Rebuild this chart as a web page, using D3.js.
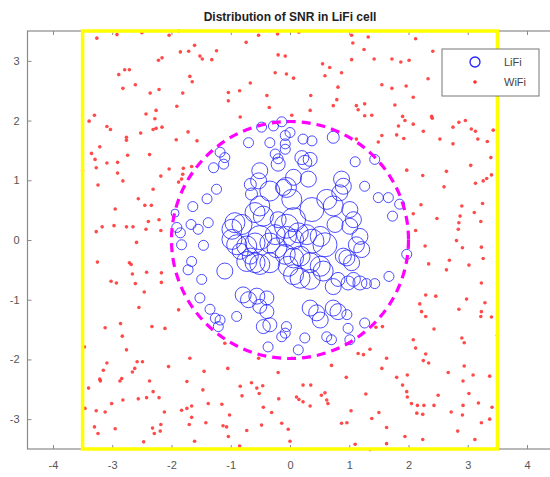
<!DOCTYPE html>
<html>
<head>
<meta charset="utf-8">
<script src="https://cdn.jsdelivr.net/npm/d3@7"></script>
<style>
  body { margin: 0; background: #fff; }
  text { font-family: "Liberation Sans", Arial, sans-serif; }
</style>
</head>
<body>
<script>
// WiFi users (red dots)
const wifiPoints = [
  [-3.26,3.38],[-2.92,3.44],[-2.50,3.47],[-2.04,3.43],[-1.88,3.50],[-1.61,3.26],[-1.85,3.15],[-1.71,3.16],
  [-1.52,3.08],[-1.48,3.03],[-1.32,3.02],[-1.24,3.17],[-0.74,3.31],[-0.53,3.43],[-2.22,3.01],[-2.16,3.05],
  [-2.89,2.77],[-2.79,2.85],[-2.71,2.85],[-1.69,2.74],[-1.65,2.65],[-2.61,2.60],[-2.82,2.54],[-2.36,2.46],
  [-2.21,2.52],[-1.81,2.46],[-1.04,2.47],[-1.04,2.33],[-0.85,2.50],[-0.67,2.63],[-0.39,2.42],[-0.35,2.22],
  [-1.91,2.24],[-2.43,2.11],[-2.26,2.17],[-3.30,2.09],[-0.84,2.06],
  [-0.21,3.45],[0.15,3.48],[1.04,3.43],[1.32,3.40],[1.06,3.30],[1.25,3.19],[2.12,3.37],[2.41,3.16],
  [-0.20,3.10],[-0.08,3.08],[1.04,3.02],[1.42,3.03],[1.72,3.03],[1.87,2.98],[2.01,3.01],[0.55,2.95],
  [0.67,2.89],[-0.25,2.80],[-0.06,2.78],[0.06,2.71],[0.59,2.75],[0.87,2.80],[2.33,2.70],[0.81,2.56],
  [1.55,2.60],[1.72,2.54],[1.96,2.58],[0.35,2.42],[0.79,2.35],[0.73,2.25],[1.12,2.25],[1.26,2.28],
  [1.77,2.26],[2.08,2.39],[0.34,2.17],[1.26,2.08],[1.38,2.09],[1.90,2.07],[2.39,2.07],
  [1.94,2.00],[2.08,1.94],[2.25,1.82],[2.40,2.04],[2.53,1.69],[2.75,1.89],[2.85,1.97],[2.96,2.00],
  [3.06,1.86],[3.13,1.82],[3.43,1.84],[3.17,1.69],[3.33,1.65],[2.75,1.61],[3.39,1.38],[3.05,1.25],
  [1.97,1.17],[2.24,1.08],[2.64,1.15],[3.40,1.09],[3.32,1.03],[3.26,0.99],[3.13,0.95],[2.60,0.89],
  [2.21,0.59],[2.90,0.57],[3.25,0.61],[3.11,0.46],[2.08,0.44],[2.48,0.36],[2.87,0.40],[2.85,0.29],
  [3.22,0.31],[2.84,0.18],[2.12,0.16],[2.81,-0.01],[2.28,-0.10],[2.91,-0.13],[3.23,-0.12],
  [2.34,-0.40],[2.69,-0.34],[2.64,-0.50],[3.02,-0.42],[3.26,-0.31],[3.23,-0.72],[2.29,-0.92],[2.46,-0.94],
  [2.19,-1.07],[2.98,-0.99],[3.29,-1.05],[2.85,-1.16],[3.23,-1.20],[3.22,-1.28],[3.40,-1.29],[2.22,-1.20],
  [2.29,-1.28],[2.43,-1.49],[2.08,-1.67],[2.12,-1.81],[2.90,-1.64],[2.94,-1.72],[3.50,-1.60],[2.29,-1.91],
  [2.25,-2.02],[2.34,-2.06],[2.94,-2.11],[2.67,-2.22],[3.09,-2.26],[3.37,-2.28],[1.98,-2.26],[2.92,-2.36],
  [0.22,-2.43],[0.35,-2.43],[-0.19,-2.66],[0.11,-2.63],[0.15,-2.67],[0.22,-2.71],[0.34,-2.78],[0.53,-2.60],
  [0.59,-2.56],[0.62,-2.68],[0.64,-2.74],[1.28,-2.58],[1.90,-2.43],[1.97,-2.54],[1.98,-2.63],[2.05,-2.74],
  [2.15,-2.77],[2.26,-2.77],[2.43,-2.77],[2.50,-2.60],[3.02,-2.57],[2.92,-2.77],[3.18,-2.73],[3.41,-2.80],
  [2.72,-2.88],[2.91,-2.93],[2.14,-2.90],[2.24,-2.92],[1.50,-2.89],[1.03,-2.86],[1.38,-2.99],[-0.14,-3.07],
  [-0.03,-3.17],[0.87,-3.07],[0.96,-3.06],[1.63,-3.14],[3.23,-3.06],[3.37,-3.00],[2.83,-3.20],[0.00,-3.37],
  [1.94,-3.29],[2.24,-3.34],[3.12,-3.34],[1.63,-3.41],[1.10,-3.42],[1.35,-3.51],
  [-3.40,-2.48],[-3.20,-2.36],[-2.87,-2.36],[-2.37,-2.36],[-1.74,-2.37],[-1.47,-2.51],[-2.31,-2.54],[-2.56,-2.66],
  [-2.42,-2.64],[-2.21,-2.64],[-2.82,-2.68],[-3.01,-2.74],[-3.46,-2.82],[-3.27,-2.86],[-3.12,-2.88],[-2.12,-2.88],
  [-1.83,-2.85],[-1.74,-2.82],[-1.66,-2.78],[-1.38,-2.74],[-1.15,-2.75],[-1.02,-2.93],[-1.66,-2.97],[-1.70,-3.09],
  [-1.42,-3.06],[-2.18,-3.09],[-2.32,-3.15],[-2.29,-3.24],[-2.19,-3.20],[-2.95,-3.16],[-3.30,-3.13],[-3.24,-3.24],
  [-1.13,-3.11],[-1.07,-3.13],[-1.04,-3.29],[-0.73,-3.19],[-0.48,-3.10],[-0.45,-2.80],[-0.31,-2.89],[-0.81,-2.61],
  [-0.84,-2.45],[-0.65,-2.39],[-0.56,-2.48],[-0.52,-2.57],[-0.46,-2.44],[-2.47,-3.38],[-1.61,-3.37],[-0.85,-3.45],
  [-3.39,1.99],[-3.09,1.90],[-3.03,1.85],[-2.76,1.72],[-2.76,1.67],[-2.28,2.03],[-2.26,1.87],[-2.31,1.85],
  [-2.16,1.89],[-2.52,1.79],[-3.21,1.56],[-3.35,1.45],[-2.74,1.42],[-2.37,1.43],[-3.29,1.35],[-3.09,1.29],
  [-2.91,1.30],[-3.27,1.21],[-3.50,1.16],[-2.91,1.12],[-2.18,1.07],[-2.82,0.99],[-3.24,0.92],[-2.31,0.85],
  [-2.56,0.69],[-2.45,0.58],[-2.34,0.58],[-2.95,0.52],[-2.21,0.34],[-2.39,0.31],[-2.97,0.24],[-3.17,0.22],
  [-3.27,0.14],[-2.76,0.22],[-2.65,0.22],[-2.43,0.18],[-2.18,0.16],[-2.59,-0.04],
  [-3.25,-0.37],[-2.71,-0.38],[-2.68,-0.41],[-2.42,-0.54],[-2.66,-0.57],[-2.17,-0.55],[-2.17,-0.71],[-3.02,-0.69],
  [-2.93,-0.72],[-2.61,-0.73],[-2.46,-0.87],[-2.55,-1.13],[-2.86,-1.40],[-3.12,-1.47],[-2.33,-1.45],[-2.83,-1.61],
  [-3.47,-1.79],[-2.76,-1.84],[-2.58,-2.04],[-2.49,-2.04],[-3.09,-2.06],[-2.62,-2.15],[-2.66,-2.21],[-3.15,-2.18],
  [-3.21,-2.33],[-2.84,-2.32],
  [-1.72,1.81],[-1.92,1.68],[-1.57,1.66],[-2.04,1.19],[-1.80,1.20],[-1.66,1.23],[-1.81,1.10],[-1.83,1.02],
  [-1.88,0.97],[0.03,2.09],[1.15,2.18],[1.83,1.91],[1.55,1.75],[1.80,1.76],[1.49,1.64],[1.92,1.70],
  [1.12,1.69],[-1.88,-1.17],[-2.11,-1.48],[-1.10,-1.73],[-1.69,-1.98],[-0.53,-1.98],[1.56,-1.45],[1.45,-1.46],
  [1.15,-1.90],[1.24,-1.92],[1.35,-1.83],[1.63,-1.98],[0.03,-1.98],
  [-2.05,-2.12],[-1.45,-2.20],[-1.05,-2.15],[-0.20,-2.22],[0.70,-2.10],[0.95,-2.30],[1.55,-2.15],[1.80,-2.30]
];

// LiFi users (blue circles): position and SNR
const lifiPoints = [
  [-0.48,1.89],[-0.28,1.91],[-0.14,1.98],[-0.70,1.63],[-0.34,1.63],[-0.25,1.44],[-0.20,1.36],[-0.08,1.52],
  [-0.20,1.27],[-1.18,1.47],[-1.10,1.38],[-1.12,1.27],[-1.29,1.21],[-0.51,1.16],[-0.53,0.99],[-0.34,0.82],
  [-0.11,0.88],[-0.67,0.93],[-0.65,0.77],[-1.24,0.85],[-1.40,0.69],[-1.64,0.56],[-1.94,0.45],[-0.51,0.57],
  [-0.59,0.46],[-0.45,0.40],[-0.93,0.29],[-0.81,0.26],[-0.98,0.18],[-1.91,0.21],[-1.67,0.26],[-1.55,0.18],
  [-1.38,0.29],[-0.20,0.34],
  [-0.08,1.75],[0.00,1.80],[-0.08,1.61],[0.22,1.69],[0.37,1.66],[0.73,1.72],[0.20,1.38],[0.34,1.35],
  [0.25,1.30],[1.10,1.31],[1.43,1.35],[0.06,1.05],[0.31,1.02],[-0.06,0.88],[0.87,1.02],[0.90,0.90],
  [0.84,0.79],[1.26,0.90],[1.49,0.71],[1.66,0.71],[1.85,0.60],[1.73,0.40],[0.37,0.51],[0.03,0.68],
  [0.62,0.68],[0.73,0.57],[1.01,0.51],[1.07,0.34],[1.01,0.23],[0.06,0.34],[-0.06,0.23],[0.76,0.26],
  [-1.83,-0.08],[-1.46,-0.09],[-1.66,-0.36],[-1.72,-0.50],[-1.49,-0.66],[-1.10,-0.52],[-1.52,-0.97],[-1.35,-1.16],
  [-1.26,-1.31],[-1.18,-1.34],[-1.21,-1.45],[-0.90,-1.28],[-0.79,-0.92],[-0.70,-1.00],[-0.56,-0.94],[-0.39,-0.97],
  [-0.51,-1.11],[-0.39,-1.20],[-0.34,-1.42],[-0.45,-1.45],[-0.98,0.01],[-0.90,-0.08],[-0.73,-0.10],[-0.59,-0.05],
  [-0.51,0.04],[-0.34,-0.05],[-0.25,0.09],[-0.22,-0.13],[-0.59,-0.38],[-0.51,-0.41],[-0.73,-0.36],[-0.34,-0.38],
  [-0.84,-0.19],[-0.67,-0.27],[-0.37,-1.79],[-1.85,0.12],
  [-0.06,0.06],[0.06,0.01],[0.14,0.12],[0.28,0.09],[0.37,-0.02],[0.51,0.06],[0.59,-0.08],[-0.08,-0.24],
  [0.06,-0.30],[0.17,-0.27],[0.34,-0.38],[0.51,-0.44],[0.56,-0.52],[-0.03,-0.44],[0.06,-0.58],[0.17,-0.64],
  [0.34,-0.66],[0.73,-0.78],[0.81,-0.66],[0.98,-0.72],[1.07,-0.66],[1.18,-0.72],[1.29,-0.73],[1.43,-0.73],
  [1.04,-0.38],[1.12,-0.08],[1.18,0.06],[1.21,-0.16],[0.90,-0.27],[0.96,-0.30],[0.34,-1.14],[0.45,-1.22],
  [0.51,-1.34],[0.73,-1.14],[0.81,-1.20],[0.96,-1.25],[0.98,-1.48],[1.26,-1.39],[0.25,-1.64],[0.62,-1.62],
  [0.70,-1.67],[1.01,-1.67],[0.14,-1.84],[-0.06,-1.45],[-0.08,-1.56],[-0.14,-1.62],[1.67,-0.61],[1.97,-0.24]
];
const lifiSnr = [
  12,12,12,12,12,12,12,12,20,12,12,12,12,24,24,32,24,16,16,12,12,12,8,32,
  32,32,32,32,32,12,12,12,12,24,
  12,12,12,12,12,16,20,20,20,12,12,24,24,32,24,24,24,12,12,12,12,12,40,32,
  32,32,24,24,24,40,40,24,
  12,12,12,12,12,24,12,12,12,12,12,12,24,24,24,20,20,20,20,20,32,32,32,32,
  40,32,32,32,32,32,32,32,24,24,12,12,
  32,32,32,32,40,32,40,32,32,32,32,32,32,32,32,32,32,24,20,20,20,20,12,12,
  24,24,24,24,24,24,24,24,24,24,24,12,12,12,12,12,12,12,12,12,12,12,12,12,12,12
];

const xTicks = [-4, -3, -2, -1, 0, 1, 2, 3, 4];
const yTicks = [-3, -2, -1, 0, 1, 2, 3];
const cellHalf = 3.5;   // yellow room boundary
const lifiRadius = 2;   // LiFi coverage circle

const width = 550, height = 477;
const svg = d3.select("body").append("svg")
  .attr("width", width)
  .attr("height", height);

const x = d3.scaleLinear().domain([-4.43, 4.43]).range([27.5, 552.5]);
const y = d3.scaleLinear().domain([-3.5, 3.5]).range([449, 31]);
const r = d3.scaleLinear().domain([8, 40]).range([4, 12]);
const fmt = d => String(d);   // plain hyphen minus like MATLAB

// axis box (right side falls outside the window)
const axisColor = "#8a8a8a";
svg.append("rect")
  .attr("x", x(-4.43)).attr("y", y(3.5))
  .attr("width", x(4.43) - x(-4.43)).attr("height", y(-3.5) - y(3.5))
  .attr("fill", "none").attr("stroke", axisColor).attr("stroke-width", 1.2);

// bottom / left axes with inward ticks
const xAxis = svg.append("g")
  .attr("transform", `translate(0,${y(-3.5)})`)
  .call(d3.axisBottom(x).tickValues(xTicks).tickFormat(fmt).tickSizeInner(-4).tickSizeOuter(0).tickPadding(12));
const xTop = svg.append("g")
  .attr("transform", `translate(0,${y(3.5)})`)
  .call(d3.axisTop(x).tickValues(xTicks).tickSizeInner(-4).tickSizeOuter(0).tickFormat(""));
const yAxis = svg.append("g")
  .attr("transform", `translate(${x(-4.43)},0)`)
  .call(d3.axisLeft(y).tickValues(yTicks).tickFormat(fmt).tickSizeInner(-4).tickSizeOuter(0).tickPadding(8));

[xAxis, xTop, yAxis].forEach(g => {
  g.select(".domain").remove();
  g.selectAll(".tick line").attr("stroke", axisColor);
  g.selectAll(".tick text")
    .attr("fill", "#555")
    .style("font-size", "11px")
    .style("font-family", "Liberation Sans, Arial, sans-serif");
});

// WiFi dots
svg.append("g").selectAll("circle")
  .data(wifiPoints)
  .join("circle")
  .attr("cx", d => x(d[0]))
  .attr("cy", d => y(d[1]))
  .attr("r", 1.8)
  .attr("fill", "#ff2a2a")
  .attr("opacity", 0.85);

// LiFi circles
svg.append("g").selectAll("circle")
  .data(lifiPoints)
  .join("circle")
  .attr("cx", d => x(d[0]))
  .attr("cy", d => y(d[1]))
  .attr("r", (d, i) => r(lifiSnr[i]))
  .attr("fill", "none")
  .attr("stroke", "#2222ff")
  .attr("stroke-width", 1)
  .attr("opacity", 0.8);

// LiFi coverage boundary
svg.append("circle")
  .attr("cx", x(0)).attr("cy", y(0))
  .attr("r", x(lifiRadius) - x(0))
  .attr("fill", "none")
  .attr("stroke", "#ff00ff")
  .attr("stroke-width", 3.2)
  .attr("stroke-dasharray", "9,6");

// room boundary
svg.append("rect")
  .attr("x", x(-cellHalf)).attr("y", y(cellHalf))
  .attr("width", x(cellHalf) - x(-cellHalf))
  .attr("height", y(-cellHalf) - y(cellHalf))
  .attr("fill", "none")
  .attr("stroke", "#ffff00")
  .attr("stroke-width", 3.5);

// title
svg.append("text")
  .attr("x", x(0)).attr("y", 21)
  .attr("text-anchor", "middle")
  .style("font-size", "12px")
  .style("font-weight", "bold")
  .attr("fill", "#222")
  .text("Distribution of SNR in LiFi cell");

// legend
const legend = svg.append("g").attr("transform", "translate(442,49)");
legend.append("rect")
  .attr("width", 97).attr("height", 47)
  .attr("fill", "#fff").attr("stroke", "#777").attr("stroke-width", 1);
legend.append("circle")
  .attr("cx", 33).attr("cy", 13).attr("r", 5)
  .attr("fill", "none").attr("stroke", "#2222ff").attr("stroke-width", 1.3);
legend.append("circle")
  .attr("cx", 33).attr("cy", 33).attr("r", 1.8)
  .attr("fill", "#ff2a2a");
legend.append("text").attr("x", 62).attr("y", 17)
  .style("font-size", "11px").attr("fill", "#444").text("LiFi");
legend.append("text").attr("x", 62).attr("y", 37)
  .style("font-size", "11px").attr("fill", "#444").text("WiFi");
</script>
</body>
</html>
